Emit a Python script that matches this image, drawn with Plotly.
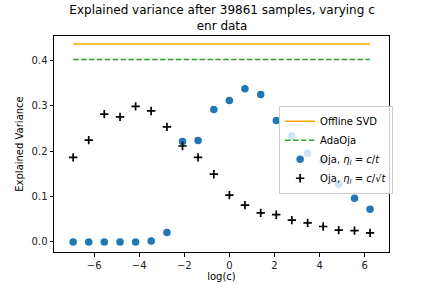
import plotly.graph_objects as go

log_c = [-6.93, -6.24, -5.55, -4.85, -4.16, -3.47, -2.77, -2.08, -1.39, -0.69,
         0.0, 0.69, 1.39, 2.08, 2.77, 3.47, 4.16, 4.85, 5.55, 6.24]
offline_svd = 0.435
adaoja = 0.401
oja_c_t = [0.0, 0.0, 0.0, 0.0, 0.0, 0.002, 0.021, 0.221, 0.223, 0.291,
           0.311, 0.337, 0.324, 0.267, 0.233, 0.195, 0.178, 0.127, 0.096, 0.072]
oja_c_sqrt_t = [0.186, 0.224, 0.281, 0.275, 0.298, 0.288, 0.253, 0.211, 0.186, 0.149,
                0.103, 0.081, 0.064, 0.060, 0.048, 0.042, 0.034, 0.026, 0.025, 0.020]

font = "DejaVu Sans"
fig = go.Figure()
fig.add_trace(go.Scatter(x=[log_c[0], log_c[-1]], y=[offline_svd, offline_svd], mode="lines",
                         line=dict(color="#ffa500", width=1.5), name="Offline SVD"))
fig.add_trace(go.Scatter(x=[log_c[0], log_c[-1]], y=[adaoja, adaoja], mode="lines",
                         line=dict(color="#2ca02c", width=1.5, dash="5.5px,2.4px"), name="AdaOja"))
fig.add_trace(go.Scatter(x=log_c, y=oja_c_t, mode="markers",
                         marker=dict(color="#1f77b4", size=7.5),
                         name="Oja, <i>η<sub>l</sub></i> = <i>c</i>/<i>t</i>"))
fig.add_trace(go.Scatter(x=log_c, y=oja_c_sqrt_t, mode="markers",
                         marker=dict(symbol="cross-thin", size=6, color="black",
                                     line=dict(color="black", width=1.7)),
                         name="Oja, <i>η<sub>l</sub></i> = <i>c</i>/√<i>t</i>"))

axis_common = dict(showline=True, mirror=True, linecolor="black", linewidth=1,
                   ticks="outside", ticklen=3.5, tickcolor="black", showgrid=False,
                   zeroline=False, automargin=False, tickfont=dict(size=10, color="#222"))
fig.update_layout(
    width=432, height=288,
    margin=dict(l=54, r=43, t=36, b=36),
    paper_bgcolor="white", plot_bgcolor="white",
    font=dict(family=font, size=10, color="black"),
    title=dict(text="Explained variance after 39861 samples, varying c<br>enr data",
               x=0.514, xanchor="center", xref="container", yref="container",
               y=0.95, yanchor="middle",
               font=dict(size=12, color="black")),
    xaxis=dict(range=[-7.78, 7.08], tickvals=[-6, -4, -2, 0, 2, 4, 6],
               ticktext=["−6", "−4", "−2", "0", "2", "4", "6"],
               title=dict(text="log(c)", font=dict(size=10), standoff=3), **axis_common),
    yaxis=dict(range=[-0.022, 0.4528], tickvals=[0, 0.1, 0.2, 0.3, 0.4],
               ticktext=["0.0", "0.1", "0.2", "0.3", "0.4"],
               title=dict(text="Explained Variance", font=dict(size=10), standoff=6), **axis_common),
    legend=dict(x=0.672, y=0.677, xanchor="left", yanchor="top",
                bgcolor="rgba(255,255,255,0.8)", bordercolor="#cccccc", borderwidth=1,
                font=dict(size=10), tracegroupgap=0, itemwidth=30),
    showlegend=True,
)
fig.write_html("out.html", config={"displayModeBar": False},
               post_script="document.body.style.margin='0px';document.body.style.overflow='hidden';")
